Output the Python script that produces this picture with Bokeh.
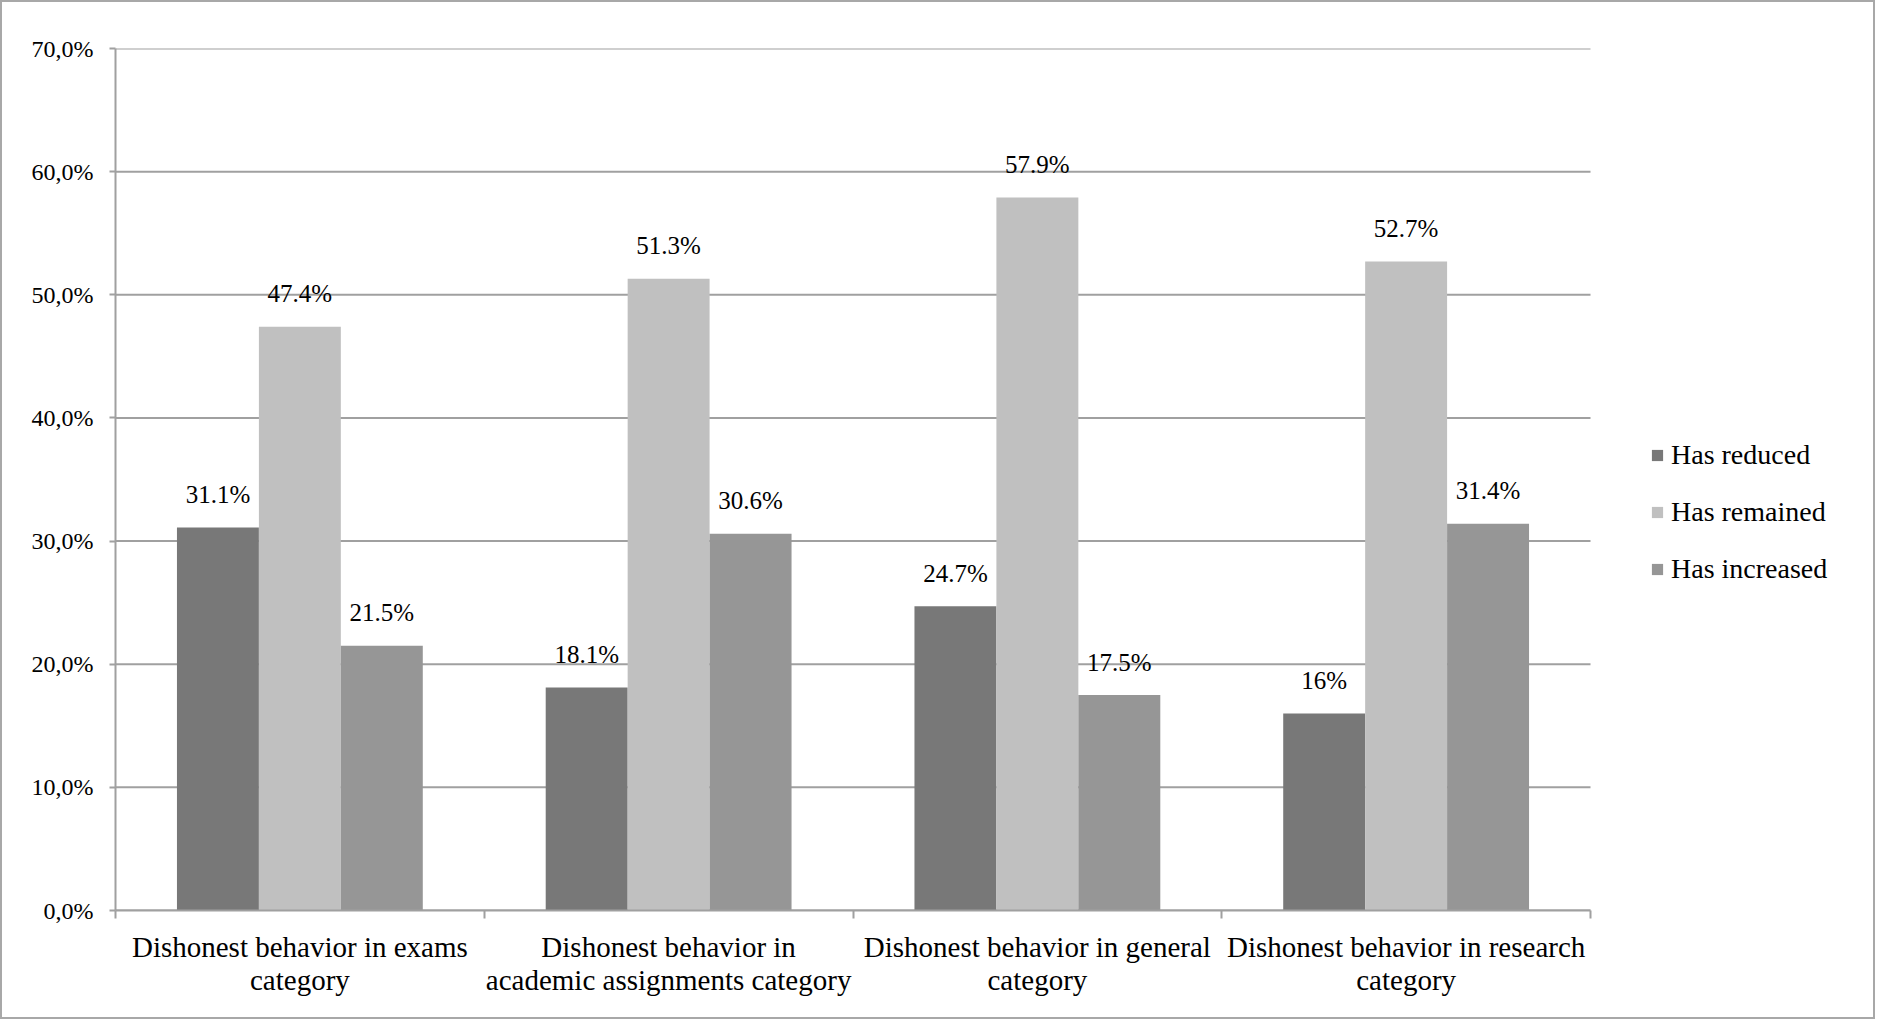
from bokeh.plotting import figure
from bokeh.models import (ColumnDataSource, FixedTicker, CustomJSTickFormatter, Legend, LegendItem, Range1d)
from bokeh.core.properties import value
from bokeh.embed import file_html
from bokeh.resources import INLINE

categories = [
    "Dishonest behavior in exams\ncategory",
    "Dishonest behavior in\nacademic assignments category",
    "Dishonest behavior in general\ncategory",
    "Dishonest behavior in research\ncategory",
]
series_names = ["Has reduced", "Has remained", "Has increased"]
has_reduced = [31.1, 18.1, 24.7, 16.0]
has_remained = [47.4, 51.3, 57.9, 52.7]
has_increased = [21.5, 30.6, 17.5, 31.4]
y_ticks = [0, 10, 20, 30, 40, 50, 60, 70]
colors = ["#787878", "#c0c0c0", "#969696"]

FONT = "Liberation Serif"
GRID = "#a0a0a0"

W, H = 1875, 1019
LEFT, RIGHT, TOP, BOTTOM = 113, 2, 46, 111
PLOT_W = 1475  # width of the category area in px
frame_w = W - LEFT - RIGHT
n = len(categories)
x_end = n * frame_w / PLOT_W

p = figure(width=W, height=H, output_backend="svg", toolbar_location=None,
           x_range=Range1d(0, x_end), y_range=Range1d(0, 0.70),
           min_border_left=LEFT, min_border_right=RIGHT, min_border_top=TOP, min_border_bottom=BOTTOM)
p.styles = {"border": "2px solid #a8a8a8", "box-sizing": "border-box"}
p.outline_line_color = None
p.xgrid.grid_line_color = None
p.ygrid.grid_line_color = None

# horizontal grid lines spanning only the category area
gy = [t / 100 for t in y_ticks]
p.segment(x0=[0] * len(gy), x1=[n] * len(gy), y0=gy, y1=gy,
          line_color=GRID, line_width=2)

bw = 2 / 9
series = [has_reduced, has_remained, has_increased]
items = []
for j, (name, vals) in enumerate(zip(series_names, series)):
    xs = [i + 0.5 + (j - 1) * bw for i in range(n)]
    src = ColumnDataSource(dict(x=xs, top=[v / 100 for v in vals],
                                lab=[f"{v:g}%" for v in vals]))
    r = p.vbar(x="x", top="top", width=bw, bottom=0, source=src,
               fill_color=colors[j], line_color=None)
    p.text(x="x", y="top", text="lab", source=src, text_align="center",
           text_baseline="alphabetic", y_offset=-33, text_font=value(FONT),
           text_font_size="25px", text_color="#000000")
    items.append(LegendItem(label=name, renderers=[r]))

# y axis
ya = p.yaxis[0]
ya.ticker = FixedTicker(ticks=gy)
ya.formatter = CustomJSTickFormatter(code="return (tick*100).toFixed(1).replace('.', ',') + '%';")
ya.axis_line_color = GRID
ya.axis_line_width = 2
ya.major_tick_line_color = GRID
ya.major_tick_line_width = 2
ya.major_tick_out = 6
ya.major_tick_in = 0
ya.minor_tick_line_color = None
ya.major_label_standoff = 16
ya.major_label_text_font = FONT
ya.major_label_text_font_size = "24px"
ya.major_label_text_color = "#000000"

# x axis
xa = p.xaxis[0]
xa.bounds = (0, n)
xa.ticker = FixedTicker(ticks=[i + 0.5 for i in range(n)],
                        minor_ticks=list(range(n + 1)))
xa.major_label_overrides = {i + 0.5: c for i, c in enumerate(categories)}
xa.axis_line_color = GRID
xa.axis_line_width = 2
xa.major_tick_line_color = None
xa.major_tick_out = 8
xa.minor_tick_line_color = GRID
xa.minor_tick_line_width = 2
xa.minor_tick_out = 8
xa.minor_tick_in = 0
xa.major_label_standoff = 12
xa.major_label_text_font = FONT
xa.major_label_text_font_size = "29px"
xa.major_label_text_color = "#000000"
xa.major_label_text_line_height = 1.06

legend = Legend(items=items, location=(PLOT_W + 60, 325))
legend.border_line_color = None
legend.background_fill_alpha = 0
legend.glyph_width = 14
legend.glyph_height = 14
legend.label_standoff = 7
legend.label_text_font = FONT
legend.label_text_font_size = "28px"
legend.label_text_color = "#000000"
legend.label_height = 32
legend.spacing = 25
legend.padding = 0
legend.margin = 0
p.add_layout(legend, "center")

open("out.html", "w").write(file_html(p, INLINE))
